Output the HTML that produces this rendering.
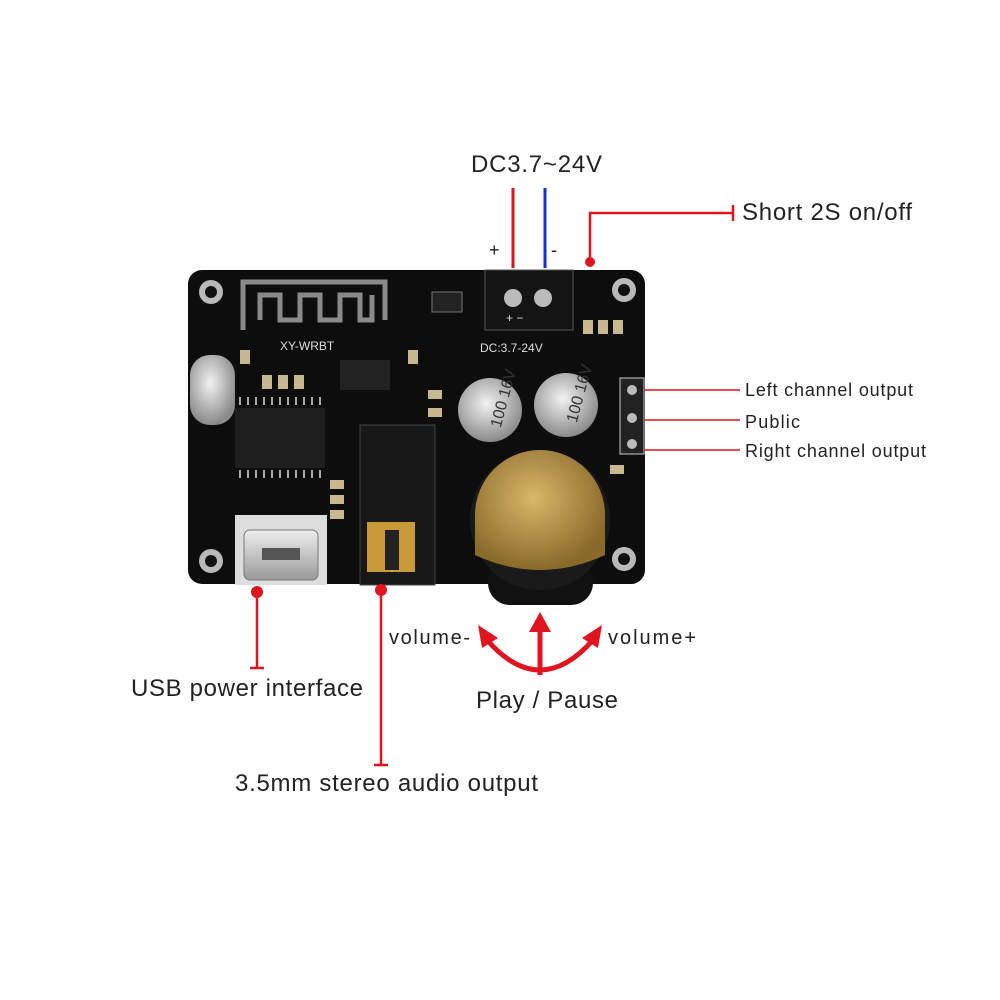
<!DOCTYPE html>
<html><head><meta charset="utf-8"><style>
body{margin:0;background:#fff}
svg{display:block}
text{font-family:"Liberation Sans",sans-serif;fill:#222}
</style></head><body>
<svg width="1000" height="1000" viewBox="0 0 1000 1000">
<defs>
<radialGradient id="gold" cx="45%" cy="40%" r="60%"><stop offset="0" stop-color="#d9b66a"/><stop offset="1" stop-color="#8a6a2a"/></radialGradient>
<radialGradient id="cap" cx="45%" cy="40%" r="60%"><stop offset="0" stop-color="#f2f2f2"/><stop offset="1" stop-color="#8a8a8a"/></radialGradient>
<linearGradient id="usb" x1="0" x2="0" y1="0" y2="1"><stop offset="0" stop-color="#eee"/><stop offset="1" stop-color="#999"/></linearGradient>
</defs>
<rect x="188" y="270" width="457" height="314" rx="14" fill="#0d0d0d"/>
<g fill="#b9b9b9"><circle cx="211" cy="292" r="12"/><circle cx="624" cy="290" r="12"/><circle cx="211" cy="561" r="12"/><circle cx="624" cy="559" r="12"/></g>
<g fill="#111"><circle cx="211" cy="292" r="6"/><circle cx="624" cy="290" r="6"/><circle cx="211" cy="561" r="6"/><circle cx="624" cy="559" r="6"/></g>
<path d="M243 330 V282 H385 V320 M260 320 V295 H280 V320 H300 V295 H320 V320 H340 V295 H360 V320 H372 V295" stroke="#8a8a8a" stroke-width="5" fill="none"/>
<text x="280" y="350" font-size="12" style="fill:#ddd">XY-WRBT</text>
<text x="480" y="352" font-size="12" style="fill:#ddd">DC:3.7-24V</text>
<rect x="190" y="355" width="45" height="70" rx="20" fill="url(#cap)"/>
<rect x="235" y="408" width="90" height="60" fill="#1e1e1e"/>
<g stroke="#aaa" stroke-width="2"><path d="M240 405v-8M248 405v-8M256 405v-8M264 405v-8M272 405v-8M280 405v-8M288 405v-8M296 405v-8M304 405v-8M312 405v-8M320 405v-8M240 470v8M248 470v8M256 470v8M264 470v8M272 470v8M280 470v8M288 470v8M296 470v8M304 470v8M312 470v8M320 470v8"/></g>
<g fill="#c8b890"><rect x="262" y="375" width="10" height="14"/><rect x="278" y="375" width="10" height="14"/><rect x="294" y="375" width="10" height="14"/><rect x="240" y="350" width="10" height="14"/><rect x="330" y="480" width="14" height="9"/><rect x="330" y="495" width="14" height="9"/><rect x="330" y="510" width="14" height="9"/><rect x="583" y="320" width="10" height="14"/><rect x="598" y="320" width="10" height="14"/><rect x="613" y="320" width="10" height="14"/><rect x="428" y="390" width="14" height="9"/><rect x="428" y="408" width="14" height="9"/><rect x="408" y="350" width="10" height="14"/><rect x="610" y="465" width="14" height="9"/></g>
<rect x="340" y="360" width="50" height="30" fill="#222"/>
<rect x="432" y="292" width="30" height="20" fill="#222" stroke="#777"/>
<rect x="485" y="270" width="88" height="60" fill="#141414" stroke="#555"/>
<circle cx="513" cy="298" r="9" fill="#bbb"/><circle cx="543" cy="298" r="9" fill="#bbb"/>
<text x="506" y="322" font-size="12" style="fill:#ddd">+ −</text>
<rect x="620" y="378" width="24" height="76" fill="#222" stroke="#ccc"/>
<g fill="#bbb"><circle cx="632" cy="390" r="5"/><circle cx="632" cy="418" r="5"/><circle cx="632" cy="444" r="5"/></g>
<circle cx="490" cy="410" r="32" fill="url(#cap)"/>
<circle cx="566" cy="405" r="32" fill="url(#cap)"/>
<text x="475" y="425" font-size="16" transform="rotate(-75 490 410)" style="fill:#333">100 16V</text>
<text x="551" y="420" font-size="16" transform="rotate(-75 566 405)" style="fill:#333">100 16V</text>
<rect x="488" y="560" width="105" height="45" rx="22" fill="#111"/>
<circle cx="540" cy="520" r="70" fill="#1a1a1a"/>
<path d="M475 515 A65 65 0 0 1 605 515 L605 555 Q540 585 475 555 Z" fill="url(#gold)"/>
<rect x="360" y="425" width="75" height="160" fill="#181818" stroke="#444"/>
<rect x="367" y="522" width="48" height="50" fill="#c89a3a"/>
<rect x="385" y="530" width="14" height="40" fill="#222"/>
<rect x="235" y="515" width="92" height="70" fill="#ddd"/>
<rect x="244" y="530" width="74" height="50" rx="6" fill="url(#usb)" stroke="#777"/>
<rect x="262" y="548" width="38" height="12" fill="#555"/>
<line x1="513" y1="188" x2="513" y2="268" stroke="#e0141e" stroke-width="3"/>
<line x1="545" y1="188" x2="545" y2="268" stroke="#1530d0" stroke-width="3"/>
<text x="471" y="172" font-size="24" textLength="131" lengthAdjust="spacing">DC3.7~24V</text>
<text x="489" y="256" font-size="18">+</text>
<text x="551" y="256" font-size="18">-</text>
<circle cx="590" cy="262" r="5" fill="#e0141e"/>
<path d="M590 257 V213 H733 M733 205 V221" stroke="#e0141e" stroke-width="2.5" fill="none"/>
<text x="742" y="220" font-size="24" textLength="170" lengthAdjust="spacing">Short 2S on/off</text>
<g stroke="#e0141e" stroke-width="1.5"><line x1="644" y1="390" x2="740" y2="390"/><line x1="644" y1="420" x2="740" y2="420"/><line x1="644" y1="450" x2="740" y2="450"/></g>
<text x="745" y="396" font-size="18" textLength="168" lengthAdjust="spacing">Left channel output</text>
<text x="745" y="428" font-size="18" textLength="55" lengthAdjust="spacing">Public</text>
<text x="745" y="457" font-size="18" textLength="181" lengthAdjust="spacing">Right channel output</text>
<circle cx="257" cy="592" r="6" fill="#e0141e"/>
<path d="M257 598 V668 M250 668 H264" stroke="#e0141e" stroke-width="2.5"/>
<text x="131" y="696" font-size="24" textLength="232" lengthAdjust="spacing">USB power interface</text>
<circle cx="381" cy="590" r="6" fill="#e0141e"/>
<path d="M381 596 V765 M374 765 H388" stroke="#e0141e" stroke-width="2.5"/>
<text x="235" y="791" font-size="24" textLength="303" lengthAdjust="spacing">3.5mm stereo audio output</text>
<path d="M487 640 Q540 700 593 640" stroke="#e0141e" stroke-width="5" fill="none"/>
<line x1="540" y1="675" x2="540" y2="628" stroke="#e0141e" stroke-width="5"/>
<polygon points="540,612 529,632 551,632" fill="#e0141e"/>
<polygon points="478,625 482,648 498,638" fill="#e0141e"/>
<polygon points="602,625 598,648 582,638" fill="#e0141e"/>
<text x="389" y="644" font-size="20" textLength="81" lengthAdjust="spacing">volume-</text>
<text x="608" y="644" font-size="20" textLength="88" lengthAdjust="spacing">volume+</text>
<text x="476" y="708" font-size="24" textLength="142" lengthAdjust="spacing">Play / Pause</text>
</svg>
</body></html>
